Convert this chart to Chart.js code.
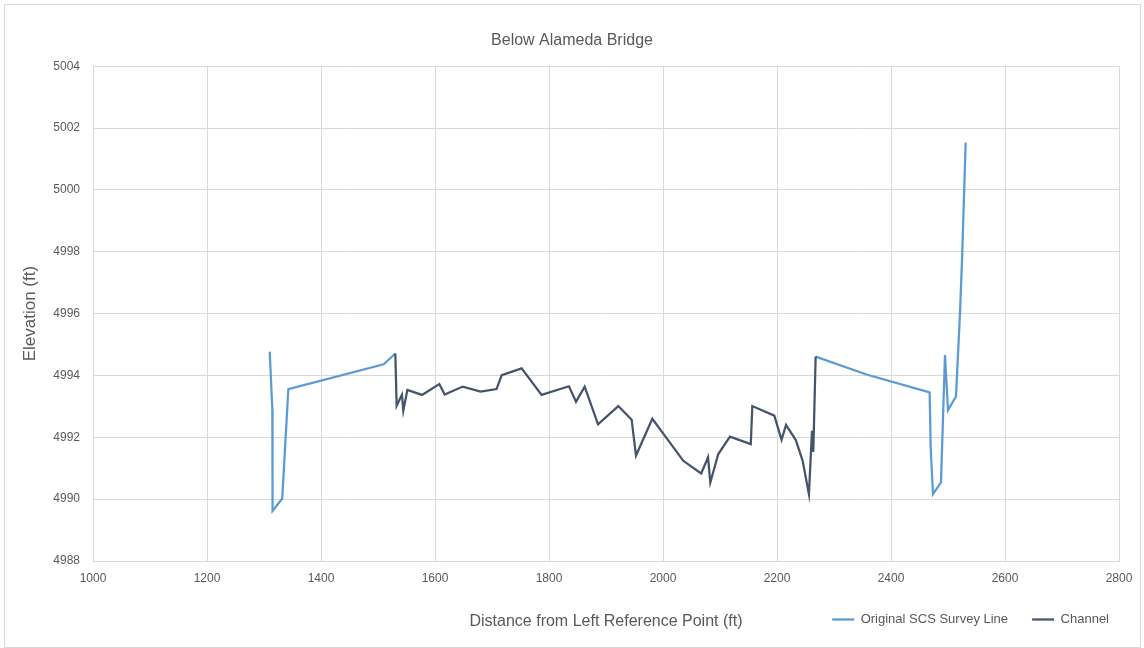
<!DOCTYPE html>
<html>
<head>
<meta charset="utf-8">
<title>Below Alameda Bridge</title>
<script src="https://cdn.jsdelivr.net/npm/chart.js@4/dist/chart.umd.min.js"></script>
<style>
    html, body { margin: 0; padding: 0; background: #ffffff; }
    #wrap { position: relative; width: 1144px; height: 648px; }
    #frame {
        position: absolute; left: 4px; top: 4px; width: 1135px; height: 642px;
        border: 1px solid #d9d9d9; pointer-events: none;
    }
</style>
</head>
<body>
<div id="wrap">
    <canvas id="sectionChart" width="1144" height="648"></canvas>
    <div id="frame"></div>
</div>
<script>
// survey line, with a gap where the channel runs
const surveyX = [1310, 1314.6, 1315, 1332, 1342.7, 1510, 1530.4,
    1900,
    2267.8, 2357, 2467.8, 2469.6, 2473.7, 2487.7, 2494.7, 2500, 2514, 2521, 2524.6, 2531];
const surveyY = [4994.77, 4992.91, 4989.62, 4990.02, 4993.56, 4994.36, 4994.71,
    null,
    4994.61, 4994.03, 4993.45, 4991.67, 4990.16, 4990.54, 4994.66, 4992.88, 4993.32, 4996.0, 4997.72, 5001.53];

const channelX = [1530.4, 1532.7, 1542, 1544.4, 1551.5, 1577.2, 1607.6, 1617, 1648.6, 1680,
    1708, 1717, 1752, 1787, 1835, 1847.4, 1862.6, 1886, 1921.6, 1945,
    1952.6, 1981.3, 2035.6, 2067, 2079, 2083, 2097, 2117.5, 2154, 2156.7,
    2195.3, 2208, 2215.8, 2233, 2245, 2256, 2261.4, 2263.7, 2267.8];
const channelY = [4994.71, 4993.02, 4993.38, 4992.86, 4993.53, 4993.37, 4993.72, 4993.38, 4993.64, 4993.48,
    4993.56, 4994.01, 4994.23, 4993.37, 4993.65, 4993.15, 4993.64, 4992.42, 4993.01, 4992.57,
    4991.41, 4992.60, 4991.24, 4990.83, 4991.35, 4990.54, 4991.46, 4992.02, 4991.78, 4993.01,
    4992.70, 4991.92, 4992.40, 4991.91, 4991.24, 4990.16, 4992.21, 4991.53, 4994.61];

const xTicks = [1000, 1200, 1400, 1600, 1800, 2000, 2200, 2400, 2600, 2800];
const yTicks = [4988, 4990, 4992, 4994, 4996, 4998, 5000, 5002, 5004];

const textColor = '#595959';
const gridColor = '#d9d9d9';
const fontFamily = "'Liberation Sans', Arial, sans-serif";

function toPoints(xs, ys) {
    return xs.map((x, i) => ({ x: x, y: ys[i] }));
}

const sectionData = {
    datasets: [{
        label: 'Original SCS Survey Line',
        data: toPoints(surveyX, surveyY),
        borderColor: '#5b9bd5',
        backgroundColor: '#5b9bd5',
        borderWidth: 2.25,
        pointRadius: 0,
        tension: 0,
        spanGaps: false,
        order: 1
    }, {
        label: 'Channel',
        data: toPoints(channelX, channelY),
        borderColor: '#44546a',
        backgroundColor: '#44546a',
        borderWidth: 2.25,
        pointRadius: 0,
        tension: 0,
        order: 0
    }]
};

const sectionConfig = {
    type: 'line',
    data: sectionData,
    options: {
        responsive: false,
        animation: false,
        layout: {
            padding: { left: 11, right: 11, top: 0, bottom: 12 }
        },
        plugins: {
            title: {
                display: true,
                text: 'Below Alameda Bridge',
                color: textColor,
                font: { family: fontFamily, size: 16, weight: 'normal' },
                padding: { top: 31, bottom: 16 }
            },
            legend: {
                position: 'bottom',
                align: 'end',
                labels: {
                    color: textColor,
                    font: { family: fontFamily, size: 13 },
                    usePointStyle: true,
                    pointStyle: 'line',
                    pointStyleWidth: 22,
                    boxHeight: 13,
                    padding: 24,
                    sort: (a, b) => a.datasetIndex - b.datasetIndex
                }
            },
            tooltip: { enabled: false }
        },
        scales: {
            x: {
                type: 'linear',
                min: 1000,
                max: 2800,
                afterBuildTicks: (scale) => { scale.ticks = xTicks.map(v => ({ value: v })); },
                afterFit: (scale) => { scale.height = 28; },
                ticks: {
                    color: textColor,
                    font: { family: fontFamily, size: 12 },
                    padding: 10,
                    maxRotation: 0,
                    callback: (v) => String(v)
                },
                grid: { color: gridColor, drawTicks: false },
                border: { color: gridColor },
                title: {
                    display: true,
                    text: 'Distance from Left Reference Point (ft)',
                    color: textColor,
                    font: { family: fontFamily, size: 16 },
                    padding: { top: 0, bottom: -42 }
                }
            },
            y: {
                type: 'linear',
                min: 4988,
                max: 5004,
                afterBuildTicks: (scale) => { scale.ticks = yTicks.map(v => ({ value: v })); },
                afterFit: (scale) => { scale.width = 82; },
                ticks: {
                    color: textColor,
                    font: { family: fontFamily, size: 12 },
                    padding: 13,
                    callback: (v) => String(v)
                },
                grid: { color: gridColor, drawTicks: false },
                border: { color: gridColor },
                title: {
                    display: true,
                    text: 'Elevation (ft)',
                    color: textColor,
                    font: { family: fontFamily, size: 17 },
                    padding: { top: 9, bottom: 0 }
                }
            },
            // empty right-hand strip so the plot ends at the same place as in the original
            edge: {
                type: 'linear',
                position: 'right',
                afterFit: (scale) => { scale.width = 14; },
                ticks: { display: false },
                grid: { display: false },
                border: { display: false }
            }
        }
    }
};

const sectionChart = new Chart(
    document.getElementById('sectionChart'),
    sectionConfig
);
</script>
</body>
</html>
